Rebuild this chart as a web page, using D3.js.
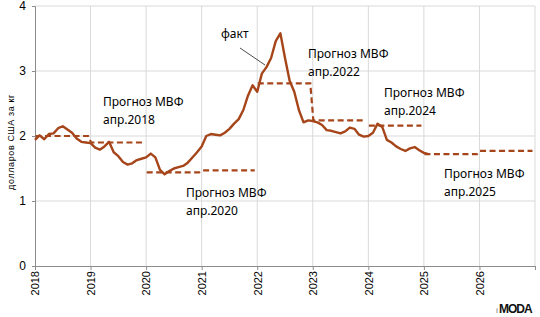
<!DOCTYPE html>
<html>
<head>
<meta charset="utf-8">
<script src="https://cdn.jsdelivr.net/npm/d3@7"></script>
<style>
  body { margin: 0; background: #fff; }
  svg { display: block; }
</style>
</head>
<body>
<div id="chart"></div>
<script>
// monthly price, Jan 2018 .. Feb 2025 (USD per kg)
const factStart = 2018;
const factValues = [
  1.94, 2.01, 1.95, 2.03, 2.04, 2.12, 2.15, 2.10, 2.05, 1.96, 1.91, 1.90,
  1.89, 1.82, 1.79, 1.84, 1.91, 1.75, 1.69, 1.60, 1.56, 1.58, 1.63, 1.65,
  1.67, 1.73, 1.67, 1.48, 1.41, 1.46, 1.50, 1.52, 1.54, 1.59, 1.67, 1.75,
  1.84, 2.00, 2.03, 2.02, 2.01, 2.05, 2.11, 2.19, 2.26, 2.40, 2.62, 2.78,
  2.68, 2.96, 3.06, 3.20, 3.46, 3.58, 3.20, 2.85, 2.68, 2.40, 2.21, 2.24,
  2.23, 2.21, 2.17, 2.09, 2.08, 2.06, 2.04, 2.07, 2.13, 2.11, 2.02, 1.99,
  2.00, 2.05, 2.19, 2.14, 1.94, 1.90, 1.84, 1.80, 1.77, 1.81, 1.83, 1.78,
  1.74, 1.72
];

// IMF forecasts: annual averages
const forecastLabels = ["апр.2018", "апр.2020", "апр.2022", "апр.2024", "апр.2025"];
const forecastYears = [[2018, 2019], [2020, 2021], [2022, 2023], [2024], [2025, 2026]];
const forecastValues = [[2.0, 1.9], [1.44, 1.47], [2.81, 2.24], [2.16], [1.72, 1.77]];

const yearTicks = d3.range(2018, 2028);
const valueTicks = [0, 1, 2, 3, 4];

const width = 540, height = 317;
const color = "#a6451a";
const font = "'Noto Sans', sans-serif";

const x = d3.scaleLinear().domain([2018, 2027]).range([35, 535]);
const y = d3.scaleLinear().domain([0, 4]).range([266, 6]);

const svg = d3.select("#chart").append("svg")
  .attr("width", width)
  .attr("height", height)
  .attr("viewBox", [0, 0, width, height]);

// grid
svg.append("g")
  .selectAll("line")
  .data(yearTicks.slice(1))
  .join("line")
  .attr("x1", d => x(d)).attr("x2", d => x(d))
  .attr("y1", y(4)).attr("y2", y(0))
  .attr("stroke", "#d9d9d9");

svg.append("g")
  .selectAll("line")
  .data(valueTicks.slice(1))
  .join("line")
  .attr("x1", x(2018)).attr("x2", x(2027))
  .attr("y1", d => y(d)).attr("y2", d => y(d))
  .attr("stroke", "#d9d9d9");

// axes
svg.append("g")
  .attr("transform", `translate(0,${y(0)})`)
  .call(d3.axisBottom(x).tickValues(yearTicks).tickSize(4).tickFormat(d => d < 2027 ? d : ""))
  .call(g => g.select(".domain").attr("stroke", "#8c8c8c"))
  .call(g => g.selectAll(".tick line").attr("stroke", "#8c8c8c"))
  .call(g => g.selectAll(".tick text")
    .attr("font-family", "'Liberation Sans', sans-serif")
    .attr("font-size", 11)
    .attr("fill", "#000")
    .attr("text-anchor", "end")
    .attr("transform", "translate(0,5) rotate(-90)")
    .attr("x", 0).attr("y", 0).attr("dy", "0.35em"));

svg.append("g")
  .attr("transform", `translate(${x(2018)},0)`)
  .call(d3.axisLeft(y).tickValues(valueTicks).tickSize(3).tickPadding(6).tickFormat(d3.format("d")))
  .call(g => g.select(".domain").attr("stroke", "#8c8c8c"))
  .call(g => g.selectAll(".tick line").attr("stroke", "#8c8c8c"))
  .call(g => g.selectAll(".tick text")
    .attr("font-family", "'Liberation Sans', sans-serif")
    .attr("font-size", 12)
    .attr("fill", "#000"));

svg.append("text")
  .attr("transform", `translate(14,142) rotate(-90)`)
  .attr("text-anchor", "middle")
  .attr("font-family", "'Liberation Sans', sans-serif")
  .attr("font-size", 9)
  .attr("letter-spacing", 0.6)
  .text("долларов США за кг");

// forecasts (dashed steps)
const stepLine = d3.line().x(d => x(d[0])).y(d => y(d[1]));
forecastYears.forEach((yrs, i) => {
  const pts = [];
  yrs.forEach((yr, j) => {
    pts.push([yr + 0.01, forecastValues[i][j]]);
    pts.push([yr + 0.955, forecastValues[i][j]]);
  });
  svg.append("path")
    .attr("d", stepLine(pts))
    .attr("fill", "none")
    .attr("stroke", color)
    .attr("stroke-width", 2.2)
    .attr("stroke-dasharray", "6,3.5");
});

// fact line
const factLine = d3.line()
  .x((d, i) => x(factStart + i / 12))
  .y(d => y(d));
svg.append("path")
  .attr("d", factLine(factValues))
  .attr("fill", "none")
  .attr("stroke", color)
  .attr("stroke-width", 2.4)
  .attr("stroke-linejoin", "round");

// annotations
const labelPos = [[103, 106], [186, 197], [308, 58], [384, 97], [444, 178]];
forecastLabels.forEach((lab, i) => {
  const t = svg.append("text")
    .attr("font-family", font)
    .attr("font-size", 12)
    .attr("fill", "#000");
  t.append("tspan").attr("x", labelPos[i][0]).attr("y", labelPos[i][1]).text("Прогноз МВФ");
  t.append("tspan").attr("x", labelPos[i][0]).attr("y", labelPos[i][1] + 17.5).text(lab);
});

svg.append("text")
  .attr("x", 221).attr("y", 37.5)
  .attr("font-family", font)
  .attr("font-size", 12)
  .text("факт");
svg.append("line")
  .attr("x1", 240).attr("y1", 48)
  .attr("x2", 265).attr("y2", 65)
  .attr("stroke", "#000")
  .attr("stroke-width", 0.7);

// logo
svg.append("text")
  .attr("x", 496).attr("y", 313)
  .attr("font-family", "'Liberation Sans', sans-serif")
  .attr("font-size", 7)
  .attr("font-weight", "bold")
  .attr("fill", "#999")
  .text("i");
svg.append("text")
  .attr("x", 499).attr("y", 313)
  .attr("font-family", "'Liberation Sans', sans-serif")
  .attr("font-weight", "bold")
  .attr("font-size", 12)
  .attr("letter-spacing", -1)
  .attr("fill", "#111")
  .text("MODA");
</script>
</body>
</html>
